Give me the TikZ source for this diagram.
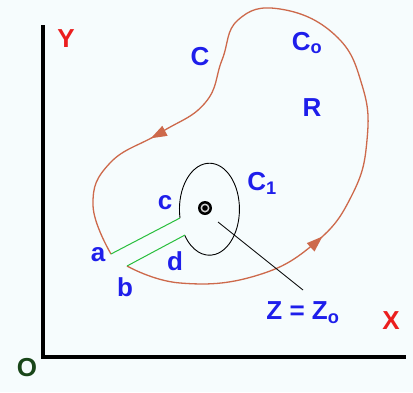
\documentclass[tikz,border=0pt]{standalone}
\usepackage{fontspec}
\setmainfont{Liberation Sans}
\usepackage{tikz}
\usetikzlibrary{arrows.meta,decorations.markings}

\definecolor{bgtint}{RGB}{246,252,253}
\definecolor{curvecol}{RGB}{205,105,75}
\definecolor{labelblue}{RGB}{30,30,235}
\definecolor{axisred}{RGB}{235,30,30}
\definecolor{origingreen}{RGB}{25,70,25}
\definecolor{cutgreen}{RGB}{40,190,60}

\begin{document}
\begin{tikzpicture}[
  x=1pt,y=-1pt,
  lbl/.style={text=labelblue,font=\bfseries\fontsize{26}{28}\selectfont,inner sep=0pt},
  axislbl/.style={text=axisred,font=\bfseries\fontsize{26}{28}\selectfont,inner sep=0pt},
  axisline/.style={line width=4pt},
  contour/.style={draw=curvecol,line width=1.3pt,
    postaction={decorate},
    decoration={markings,
      mark=at position 0.25 with {\arrow{Triangle[length=16pt,width=11pt]}},
      mark=at position 0.825 with {\arrow{Triangle[length=16pt,width=11pt]}}}},
  cutline/.style={draw=cutgreen,line width=1pt},
  smallring/.style={draw=black,line width=0.9pt}
]
  \fill[bgtint] (0,0) rectangle (413,392);
  \useasboundingbox (0,0) rectangle (413,392);

  % axes
  \coordinate (origin) at (43,357);
  \coordinate (ytop) at (43,25);
  \coordinate (xend) at (406,357);
  \draw[axisline] (ytop) -- (origin) -- (xend);
  \node[axislbl] (ylabel) at (66,39) {Y};
  \node[axislbl] (xlabel) at (391,321) {X};
  \node[text=origingreen,font=\bfseries\fontsize{26}{28}\selectfont,inner sep=0pt] (olabel) at (27,368) {O};

  % cut end points
  \coordinate (a) at (111,254);
  \coordinate (b) at (127,266);
  \coordinate (c) at (180,218);
  \coordinate (d) at (185,235);

  % outer contour C
  \draw[contour] plot[smooth,tension=0.75] coordinates {(b) (180,283) (255,276)
    (315,243) (352,195) (367,140) (362,85) (335,35) (280,9) (238,20) (222,60)
    (205,103) (160,133) (110,163) (93,205) (a)};

  % inner contour C1
  \draw[smallring] (c) arc[start angle=169,end angle=505.6,x radius=30,y radius=46];

  % cut
  \draw[cutline] (a) -- (c);
  \draw[cutline] (b) -- (d);

  % singular point
  \coordinate (z0) at (205,208);
  \fill[black] (z0) circle[radius=7pt];
  \fill[gray!35] (z0) circle[radius=4.5pt];
  \fill[black] (z0) circle[radius=2.8pt];
  \coordinate (ztail) at (218,222);
  \coordinate (zlead) at (303,290);
  \draw[black,line width=0.8pt] (ztail) -- (zlead);

  % labels
  \node[lbl] (lC) at (200,57) {C};
  \node[lbl] (lC0) at (307,43) {C\textsubscript{o}};
  \node[lbl] (lR) at (312,108) {R};
  \node[lbl] (lC1) at (262,183) {C\textsubscript{1}};
  \node[lbl] (lc) at (165,203) {c};
  \node[lbl] (la) at (98,255) {a};
  \node[lbl] (ld) at (175,261) {d};
  \node[lbl] (lb) at (125,287) {b};
  \node[lbl] (lZ) at (303,313) {Z = Z\textsubscript{o}};
\end{tikzpicture}
\end{document}
